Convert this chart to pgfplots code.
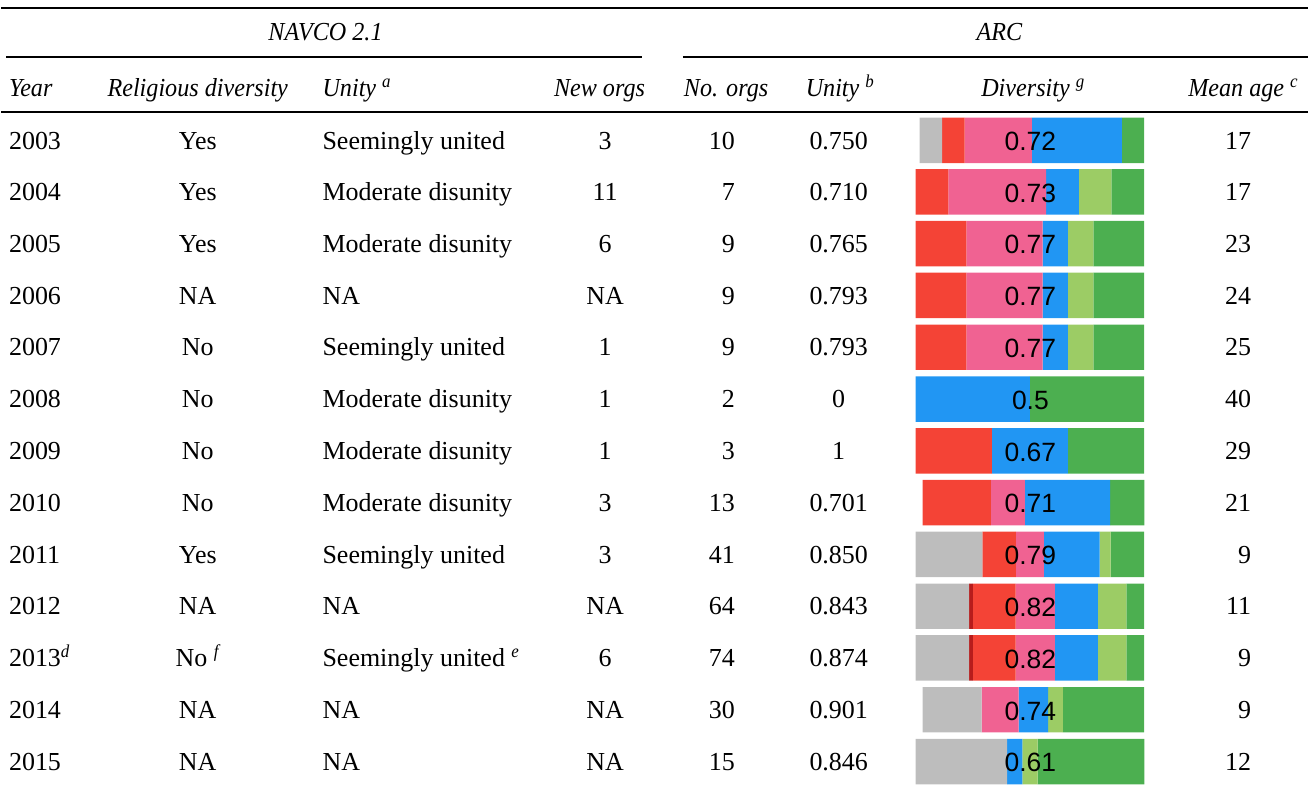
\documentclass[border=0pt]{standalone}
\usepackage{pgfplots}
\pgfplotsset{compat=1.18}
\usepackage{pgfplotstable}
\usepackage{fontspec}
\setmainfont{Liberation Serif}[ItalicFeatures={FakeStretch=0.93}]
\newfontfamily\sansf{Liberation Sans}
\definecolor{cgray}{HTML}{BDBDBD}
\definecolor{cdred}{HTML}{B71C1C}
\definecolor{cred}{HTML}{F44336}
\definecolor{cpink}{HTML}{F06292}
\definecolor{cblue}{HTML}{2196F3}
\definecolor{clgreen}{HTML}{9CCC65}
\definecolor{cgreen}{HTML}{4CAF50}

% bar segments, widths in pixel units; y = row centre
\pgfplotstableread{
y off gray dred red pink blue lgreen green
140.7 920 22.5 0 22.5 67.5 90 0 22.5
192.2 916 0 0 32.7 98.1 32.7 32.7 32.7
244.1 916 0 0 50.9 76.3 25.4 25.4 50.9
295.9 916 0 0 50.9 76.3 25.4 25.4 50.9
347.8 916 0 0 50.9 76.3 25.4 25.4 50.9
399.7 916 0 0 0 0 114.5 0 114.5
451.6 916 0 0 76.3 0 76.3 0 76.3
503.4 923 0 0 68.3 34.2 85.4 0 34.2
555.3 916 67.0 0 33.5 27.9 55.8 11.2 33.5
607.2 916 53.7 3.6 42.9 39.4 42.9 28.6 17.9
659.0 916 53.7 3.6 42.9 39.4 42.9 28.6 17.9
710.9 923 59.2 0 0 37.0 29.6 14.8 81.4
762.8 916 91.6 0 0 0 15.3 15.3 106.9
}\bars

\newcommand\row[9]{%
  \node[anchor=base west] at (8,#1+8.7) {#2};
  \node[anchor=base] at (197,#1+8.7) {#3};
  \node[anchor=base west] at (322,#1+8.7) {#4};
  \node[anchor=base] at (605,#1+8.7) {#5};
  \node[anchor=base east] at (735,#1+8.7) {#6};
  \node[anchor=base] at (839,#1+8.7) {#7};
  \node[anchor=base,font=\sansf\fontsize{10.6}{12}\selectfont] at (1031,#1+10.3) {#8};
  \node[anchor=base east] at (1252,#1+8.7) {#9};
}
\newcommand\sups[1]{\textsuperscript{\itshape #1}}

\begin{document}
\fontsize{10.4}{12.5}\selectfont
\begin{tikzpicture}[every node/.style={inner sep=0pt, outer sep=0pt}]
\begin{axis}[
  x=0.4pt, y=0.4pt, y dir=reverse,
  xmin=0, xmax=1309, ymin=0, ymax=790,
  hide axis, clip=false, scale only axis,
  xbar stacked, bar width=18.2pt,
]
\addplot[draw=none, fill=none] table[x=off, y=y] {\bars};
\addplot[draw=none, fill=cgray] table[x=gray, y=y] {\bars};
\addplot[draw=none, fill=cdred] table[x=dred, y=y] {\bars};
\addplot[draw=none, fill=cred] table[x=red, y=y] {\bars};
\addplot[draw=none, fill=cpink] table[x=pink, y=y] {\bars};
\addplot[draw=none, fill=cblue] table[x=blue, y=y] {\bars};
\addplot[draw=none, fill=clgreen] table[x=lgreen, y=y] {\bars};
\addplot[draw=none, fill=cgreen] table[x=green, y=y] {\bars};
\path (axis cs:0,0) rectangle (axis cs:1309,790);
\end{axis}
% table text, in the same pixel frame as the axis (origin at top left)
\begin{scope}[x=0.4pt, y=-0.4pt, yshift=316pt]
% rules
\draw[line width=0.85pt] (0,8) -- (1309,8);
\draw[line width=0.85pt] (5,57.5) -- (642,57.5);
\draw[line width=0.85pt] (683,57.5) -- (1309,57.5);
\draw[line width=0.85pt] (0,112) -- (1309,112);
% group headers
\node[anchor=base, font=\itshape] at (325,41) {NAVCO 2.1};
\node[anchor=base, font=\itshape] at (1000,41) {ARC};
% column headers
\node[anchor=base west, font=\itshape] at (8,97) {Year};
\node[anchor=base, font=\itshape] at (197,97) {Religious diversity};
\node[anchor=base west, font=\itshape] at (322,97) {Unity~\sups{a}};
\node[anchor=base east, font=\itshape] at (645,97) {New orgs};
\node[anchor=base west, font=\itshape] at (684,97) {No. orgs};
\node[anchor=base west, font=\itshape] at (806,97) {Unity~\sups{b}};
\node[anchor=base, font=\itshape] at (1034,97) {Diversity~\sups{g}};
\node[anchor=base east, font=\itshape] at (1300,97) {Mean age~\sups{c}};
% body
\row{140.7}{2003}{Yes}{Seemingly united}{3}{10}{0.750}{0.72}{17}
\row{192.2}{2004}{Yes}{Moderate disunity}{11}{7}{0.710}{0.73}{17}
\row{244.1}{2005}{Yes}{Moderate disunity}{6}{9}{0.765}{0.77}{23}
\row{295.9}{2006}{NA}{NA}{NA}{9}{0.793}{0.77}{24}
\row{347.8}{2007}{No}{Seemingly united}{1}{9}{0.793}{0.77}{25}
\row{399.7}{2008}{No}{Moderate disunity}{1}{2}{0}{0.5}{40}
\row{451.6}{2009}{No}{Moderate disunity}{1}{3}{1}{0.67}{29}
\row{503.4}{2010}{No}{Moderate disunity}{3}{13}{0.701}{0.71}{21}
\row{555.3}{2011}{Yes}{Seemingly united}{3}{41}{0.850}{0.79}{9}
\row{607.2}{2012}{NA}{NA}{NA}{64}{0.843}{0.82}{11}
\row{659.0}{2013\sups{d}}{No~\sups{f}}{Seemingly united~\sups{e}}{6}{74}{0.874}{0.82}{9}
\row{710.9}{2014}{NA}{NA}{NA}{30}{0.901}{0.74}{9}
\row{762.8}{2015}{NA}{NA}{NA}{15}{0.846}{0.61}{12}
\end{scope}
\end{tikzpicture}
\end{document}
